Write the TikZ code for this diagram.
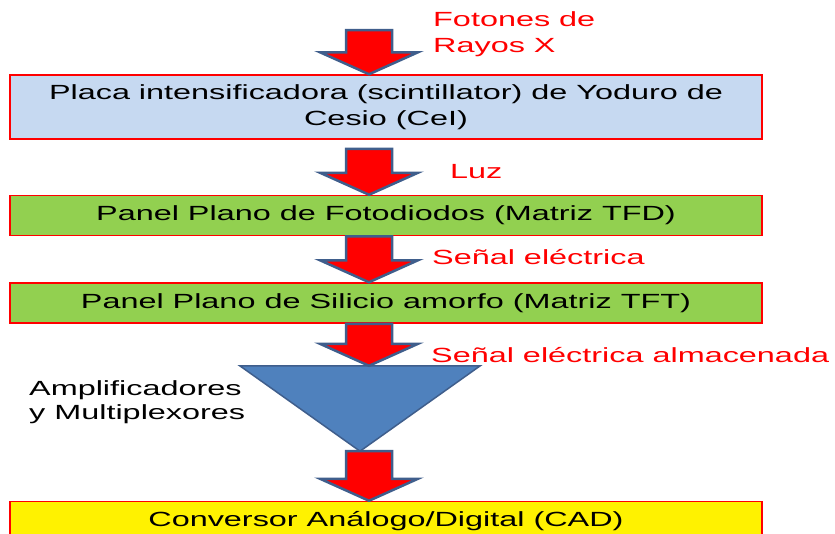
\documentclass[tikz,border=0pt]{standalone}
\usepackage{fontspec}
\setmainfont{Liberation Sans}[FakeStretch=1.58]
\usetikzlibrary{positioning,calc}
\definecolor{azulclaro}{HTML}{C6D9F1}
\definecolor{verdepanel}{HTML}{92D050}
\definecolor{azultriangulo}{HTML}{4F81BD}
\definecolor{bordeazul}{HTML}{3F5E8C}
\newcommand{\flechabloque}[2]{%
	\draw[flecha] let \p1=(#1), \p2=(#2) in
	(\x2-23pt,\y1) -- (\x2+23pt,\y1) -- (\x2+23pt,\y2+22pt) -- (\x2+49pt,\y2+22pt)
	-- (\x2,\y2) -- (\x2-49pt,\y2+22pt) -- (\x2-23pt,\y2+22pt) -- cycle;}

\begin{document}
\begin{tikzpicture}[x=1pt, y=-1pt,
				font=\fontsize{20.5}{26}\selectfont,
				caja/.style={rectangle, draw=red, line width=1.5pt, minimum width=752pt, minimum height=40pt, inner sep=0pt, align=center},
				etiqueta/.style={anchor=base west, text=red, align=left, inner sep=0pt},
				nota/.style={anchor=base west, text=black, align=left, inner sep=0pt, font=\fontsize{20.5}{24}\selectfont},
				flecha/.style={fill=red, draw=bordeazul, line width=2.5pt},
				triangulo/.style={fill=azultriangulo, draw=bordeazul, line width=1.5pt},
			]
			\clip (0,0) rectangle (835,533);
			\node[caja, fill=azulclaro, minimum height=64pt] (placa) at (386,107) {Placa intensificadora (scintillator) de Yoduro de\\Cesio (CeI)};
			\node[caja, fill=verdepanel] (fotodiodos) [below=55pt of placa] {Panel Plano de Fotodiodos (Matriz TFD)};
			\node[caja, fill=verdepanel] (silicio) [below=46pt of fotodiodos] {Panel Plano de Silicio amorfo (Matriz TFT)};
			\node[rectangle, minimum width=240pt, minimum height=85pt, inner sep=0pt] (amplificador) at (360,408.5) {};
			\node[caja, fill=yellow] (conversor) [below=177pt of silicio] {Conversor Análogo/Digital (CAD)};
			\draw[triangulo] (amplificador.north west) -- (amplificador.north east) -- (amplificador.south) -- cycle;
			\node[etiqueta] (fotones) at (433,52) {Fotones de\\Rayos X};
			\node[etiqueta] (luz) at (450,178) {Luz};
			\node[etiqueta] (senal) at (432,264) {Señal eléctrica};
			\node[etiqueta] (almacenada) at (431,362) {Señal eléctrica almacenada};
			\node[nota] (multiplexores) at (29,419) {Amplificadores\\y Multiplexores};
			\coordinate (eje) at (369,30);
			\flechabloque{eje}{eje |- placa.north}
			\flechabloque{$(eje |- placa.south)+(0,9)$}{eje |- fotodiodos.north}
			\flechabloque{eje |- fotodiodos.south}{eje |- silicio.north}
			\flechabloque{eje |- silicio.south}{eje |- amplificador.north}
			\flechabloque{eje |- amplificador.south}{eje |- conversor.north}
			\end{tikzpicture}
\end{document}
